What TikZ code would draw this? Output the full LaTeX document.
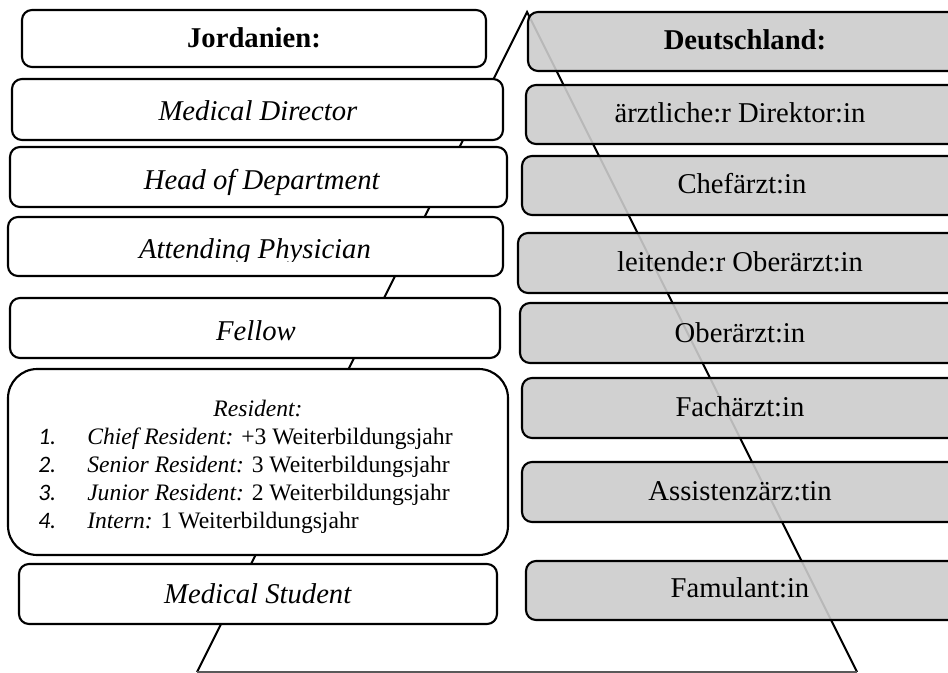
\documentclass[tikz,border=0pt]{standalone}
\usepackage{fontspec}
\setmainfont{Liberation Serif}
\newfontfamily\numfont{Carlito}
\usetikzlibrary{fit}
\definecolor{boxgray}{gray}{0.80}

\tikzset{
  rankbox/.style={draw=black, line width=1.6pt, rounded corners=7.5pt, inner sep=0pt},
  jorbox/.style={rankbox, fill=white},
  debox/.style={rankbox, fill=boxgray, fill opacity=0.9, text opacity=1},
  titletxt/.style={font=\fontsize{21.5}{26}\selectfont, inner sep=0pt, anchor=base},
  listtxt/.style={font=\fontsize{17.7}{21}\selectfont, inner sep=0pt, anchor=base west},
  tri/.style={draw=black, line width=1.5pt},
  baseline/.style={draw=black!65, line width=1pt},
}

\begin{document}
\begin{tikzpicture}[x=0.75pt, y=-0.75pt]
\useasboundingbox (0,0) rectangle (948,673);
\clip (0,0) rectangle (948,673);

% pyramid behind both columns
\coordinate (apex) at (527,12);
\coordinate (bl) at (197,672);
\coordinate (br) at (857,672);
\draw[tri, line join=miter] (bl) -- (apex) -- (br);
\draw[baseline] (bl) -- (br);

% Jordan column
\node[jorbox, fit={(22,10) (486,67)}] (jor) {};
\node[titletxt] (jorT) at (254,48) {\textbf{Jordanien:}};

\node[jorbox, fit={(12,79) (503,140)}] (md) {};
\node[titletxt] (mdT) at (258,121) {\textit{Medical Director}};

\node[jorbox, fit={(10,147) (507,207)}] (hod) {};
\node[titletxt] (hodT) at (262,190) {\textit{Head of Department}};

\node[jorbox, fit={(8,217) (503,276)}] (att) {};
\begin{scope}
  \clip (0,217) rectangle (948,262);
  \node[titletxt] (attT) at (255,259) {\textit{Attending Physician}};
\end{scope}

\node[jorbox, fit={(10,298) (500,358)}] (fel) {};
\node[titletxt] (felT) at (256,340) {\textit{Fellow}};

\node[jorbox, rounded corners=22pt, fit={(8,369) (508,555)}] (res) {};
\node[titletxt] (resT) at (258,416) {\fontsize{17.7}{21}\selectfont\textit{Resident:}};
\node[listtxt] (n1) at (38,444) {\numfont\itshape 1.};
\node[listtxt] (i1) at (87,444) {\textit{Chief Resident:} +3 Weiterbildungsjahr};
\node[listtxt] (n2) at (38,472) {\numfont\itshape 2.};
\node[listtxt] (i2) at (87,472) {\textit{Senior Resident:} 3 Weiterbildungsjahr};
\node[listtxt] (n3) at (38,500) {\numfont\itshape 3.};
\node[listtxt] (i3) at (87,500) {\textit{Junior Resident:} 2 Weiterbildungsjahr};
\node[listtxt] (n4) at (38,528) {\numfont\itshape 4.};
\node[listtxt] (i4) at (87,528) {\textit{Intern:} 1 Weiterbildungsjahr};

\node[jorbox, fit={(19,564) (497,624)}] (ms) {};
\node[titletxt] (msT) at (258,603) {\textit{Medical Student}};

% German column
\node[debox, fit={(528,12) (958,71)}] (de) {};
\node[titletxt] (deT) at (745,50) {\textbf{Deutschland:}};

\node[debox, fit={(526,85) (958,144)}] (ad) {};
\node[titletxt] (adT) at (740,123) {ärztliche:r Direktor:in};

\node[debox, fit={(522,156) (958,215)}] (cf) {};
\node[titletxt] (cfT) at (742,194) {Chefärzt:in};

\node[debox, fit={(518,233) (958,293)}] (lo) {};
\node[titletxt] (loT) at (740,272) {leitende:r Oberärzt:in};

\node[debox, fit={(520,303) (958,363)}] (oa) {};
\node[titletxt] (oaT) at (740,342) {Oberärzt:in};

\node[debox, fit={(522,378) (958,438)}] (fa) {};
\node[titletxt] (faT) at (740,416) {Fachärzt:in};

\node[debox, fit={(522,462) (958,522)}] (as) {};
\node[titletxt] (asT) at (740,500) {Assistenzärz:tin};

\node[debox, fit={(526,561) (958,620)}] (fm) {};
\node[titletxt] (fmT) at (740,597) {Famulant:in};
\end{tikzpicture}
\end{document}
